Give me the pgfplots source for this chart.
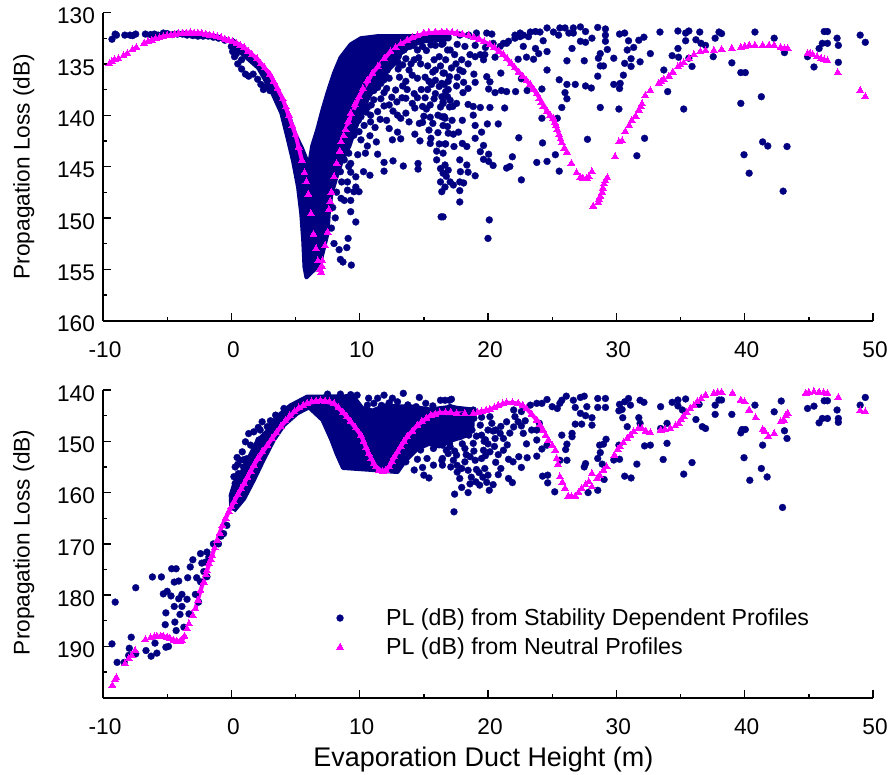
\documentclass[border=0pt]{standalone}
\usepackage{fontspec}
\setmainfont{Liberation Sans}
\usepackage{pgfplots}
\pgfplotsset{compat=1.18}
\definecolor{nv}{HTML}{000080}
\definecolor{mg}{HTML}{FF00FF}
\pgfplotsset{
 common/.style={
  scale only axis, width=577.5pt,
  xmin=-10,xmax=50,
  axis x line=bottom, axis y line=left,
  axis line style={-,line width=1.5pt,black},
  y dir=reverse,
  xtick={-10,0,10,20,30,40,50}, minor xtick={-5,5,15,25,35,45},
  tick align=inside, tick pos=left,
  tick style={black,line width=1pt},
  major tick length=6pt, minor tick length=3pt,
  /pgf/number format/assume math mode=true,
  /pgf/number format/.cd,set thousands separator={},/pgfplots/.cd,
  tick label style={font=\fontsize{17}{20}\selectfont},
  yticklabel style={yshift=-2.5pt,xshift=-2.5pt},
  xticklabel style={xshift=1.5pt,yshift=-12pt},
  label style={font=\fontsize{17}{20}\selectfont},
  clip=false,
 },
 bl/.style={only marks,mark=*,mark size=2.6pt,mark options={nv,fill=nv,line width=0.2pt}},
 mgs/.style={only marks,mark=triangle*,mark size=3pt,mark options={mg,fill=mg,line width=0pt}},
 core/.style={draw=nv,fill=nv,no marks,forget plot,line width=3pt,line join=round},
 mline/.style={draw=mg,no marks,forget plot,line width=3pt,line join=round},
}
\begin{document}
\begin{tikzpicture}
\path[use as bounding box] (0,0) rectangle (668.25pt,580.5pt);
\begin{axis}[common,at={(77.25pt,340.1pt)},anchor=south west,height=231pt,
  ymin=130,ymax=160,ytick={130,135,...,160},minor ytick={132.5,137.5,142.5,147.5,152.5,157.5},
  ylabel={Propagation Loss (dB)},ylabel style={at={(axis description cs:-0.083,0.5)},anchor=south}]
\addplot[core] coordinates {(0,132.6)(1,133.5)(2,134.7)(3,136.2)(3.5,137.3)(4,138.6)(4.5,140.1)(5,141.9)(5.5,143.2)(6.05,144.9)(6.3,143)(6.7,141.4)(7.1,139.5)(7.5,137.8)(8,135.9)(8.5,134.4)(9.3,133.1)(10.1,132.5)(11.4,132.3)(17,132.3)(17,132.6)(15,132.8)(14,133.2)(13.2,134)(12.7,135)(11.9,136)(11.2,137.2)(10.6,138.5)(10.1,140)(9.6,141.5)(9.2,143)(8.6,144.5)(8.2,146)(7.8,147.7)(7.6,149.4)(7.5,151.5)(7.3,152.5)(7,154)(6.5,155)(5.85,155.8)(5.7,154.8)(5.6,152.2)(5.45,149.6)(5.2,147)(4.8,144.4)(4.3,141.8)(3.9,139.8)(3.1,137.6)(2.1,135.4)(1,134.2)(0,133.1)};
\addplot[bl] coordinates {(-9.3,132.6)(-9.05,132.1)(-8.95,132.2)(-8.3,132.2)(-7.9,132.2)(-7.7,132.25)(-7.45,132.1)(-6.7,132.1)(-6.3,132.15)(-6,132.1)(-5.7,132.2)(-5.3,132)(-5,132.05)(-4.6,132.15)(-4.2,132.1)(-3.8,132.1)(-3.45,132.2)(-3,132.25)(-2.6,132.3)(-2.2,132.3)(-1.8,132.3)(-1.4,132.4)(-1,132.5)(-.5,132.7)
(0,133.3)(.1,133.8)(.25,134.3)(.5,135)(.8,135.5)(1.1,136)(1.35,136.2)(1.7,136)(2.05,136.5)(2.3,137)(2.5,137.5)(2.7,137.2)(3,137.6)(.4,134)(.8,134.6)
(9.7,150.4)(9.3,149.4)(8.8,148.3)(8.55,148.1)(9.3,148.3)(9.05,147.3)(9.55,147.45)(9.95,147.45)(9.7,147)(9.05,146.5)(9.7,146)(9.3,145.55)(8.5,145.5)(9.15,145)(9.3,144.7)(8.8,144.35)(9.15,143.7)(9.85,143.85)(10.45,143.7)(11.4,143.8)(10.3,145.5)(10.8,145.85)(11.9,144.6)(11.9,145.45)(12.6,144.45)(13.4,144.95)(14.55,144.7)(14.55,145.25)(16,144.35)(16.5,149.9)(8,152.5)(8.4,153.1)(9,152.9)(9.1,152)(8.5,154.05)(8.7,154.3)(9.35,154.6)(7.9,149)(8.2,147.5)(8.6,146.5)(7.8,151)(8.1,150)
(12.55,142.4)(12.95,141.65)(14.3,141.85)(15.5,142.75)(15.55,142.25)(16.7,142.8)(13.85,140.65)(12.95,140)(13.2,140.3)(13.6,139.8)(14.65,140.8)(15,140.1)(15.4,141.45)(15.7,140.8)(16.6,140.15)(16.85,141.1)
(10.85,140.65)(10.35,141)(9.95,141.6)(9.55,141.95)(10.85,140)(10.1,140.15)(11.4,139.65)(10.6,139.25)(11.9,139.1)(11.65,138.4)(12.5,138.25)(11.1,138.5)(11.1,137.6)(11.65,136.9)(12.3,136.4)(12.8,137.55)(13.35,137.15)(13.6,138.35)(14.25,137.9)(14.1,138.85)(14.9,139.15)(14.5,136.4)(15.4,136.7)(16.2,137.2)(16.85,138.2)(12.7,134.6)(13.35,135.1)(13.85,135.6)(14.75,135)(15.8,134.6)(16.85,133.65)(16.2,134.3)(14.25,134.6)(12.15,135.6)(11.9,136.55)(9.95,136.25)(10.2,137.2)(15.55,133.15)(14.5,133.65)(13.45,133.65)(16.6,135.9)(15.8,138.4)(16.3,139.2)(17,136.25)(17,139.2)
(12.6,133.6)(13,134.3)(13.2,133.4)(13.9,133.3)(14.2,133.2)(14.9,133.3)(15.2,133.7)(15.9,133.2)(16.4,133.1)(11.9,134.9)(11.3,136.2)(10.7,137.6)(10.2,139)(9.7,140.3)(9.3,141.3)(9,142.5)(8.7,143.5)(12.3,135.2)(13,135.5)(14.6,134.4)(15.3,135.2)(15.9,135.6)(16.3,135.2)(15.3,137.5)(15.6,137)(15.9,137.9)(15.1,138.3)(15.5,139)(16.6,137)(16.7,137.7)(13.1,136.3)(13.6,136.7)(14.1,136.1)(16.5,138.7)(16.1,140)(15.5,140.2)(12.1,137.4)(10.6,138.2)(10.1,142.4)(10.8,142)
(9.8,137.4)(10.4,138.4)(10.9,139)(9.5,139.8)(9.1,141.5)(9.9,140.5)(10.5,139.7)(11.4,137.3)(12,136.1)(12.4,134.9)(13,134.9)(13.6,134.5)(14,135)(13.7,137.5)(12.9,138.7)(12.3,139)(11.6,140.4)(11.2,141.2)(12.1,140.5)(12.6,139.6)(14.5,138.3)(14.8,137.5)(15.1,136.3)(15.7,135.8)(15.9,136.6)(16.7,134.6)(17.5,135)(14.3,139.3)(14.9,140.7)(14.7,142.5)(15.2,139.4)(16.1,141.7)(16.2,142.8)(13.2,142.3)(11.3,142.6)(10.6,143)(12.3,141.3)(13.3,138.3)(11.9,137.8)(17.6,136.3)(18.9,136)(19,136.8)(18.1,136.8)(17.2,140.5)(18,140.5)(16,143.5)(16.5,143.7)
(19.1,132)(19.9,132)(20.3,132.1)(18.5,132.2)(17.8,132.2)(21.2,133)(21.6,132.8)(22.1,132.5)(22.5,132)(22.75,132.2)(23.3,131.9)(23.7,131.85)(24.05,131.9)(24.6,131.5)(25.1,131.9)(25.6,131.5)(26,131.5)(26.3,132)(26.65,131.5)(27.2,131.4)(27.6,131.85)(28.1,132.5)(28.55,131.45)(29.15,131.6)(29.15,132.2)(29.15,132.8)(22.1,132.2)(22.5,132.35)(23.15,132.35)(24.3,132.75)(25.5,132.2)(26.65,132)(27.2,132.8)(27.6,132.9)
(22.75,133.3)(23.7,133.5)(24.6,133.8)(23.95,134)(26.55,133.5)(23,134.35)(23.55,134.55)(22.35,134.55)(26.15,134.7)(27.5,134.7)(28.6,134.45)(28.75,134)(29.3,133.6)(29,135.2)(28.75,135.2)(24.6,135.6)(28.55,136.2)
(30.25,132.1)(30.65,132)(30.95,132.75)(31.75,132.7)(32.15,132.4)(33.4,131.9)(34.8,131.8)(35.4,132)(35.65,131.8)(36.5,131.9)(38,131.9)(38.2,132.05)(37.7,132.5)(35.4,132.75)(36.2,132.65)(36.6,133)(36.95,133.2)(34.8,133.5)(31.35,133.4)(30.85,133.65)(32.65,134)(34.35,134.2)(34.85,134.35)(35.65,134.45)(31.15,134.5)(29.8,134.45)(30.65,134.95)(31.85,134.8)(31.15,135.25)(37.55,134.3)(39,134.9)(35.9,135.25)(33.7,135.6)(30.55,136.1)(39.7,135.85)(40.05,135.85)(40.8,131.9)(42.3,132.5)(43.1,133.9)(44.9,134.3)(45.4,135.3)(45.8,133.5)(46.05,133)(46.45,133)(46.2,131.85)(46.45,131.85)(47.2,132.5)(47.3,133.2)(47.3,134.85)(49,132.2)(49.4,132.9)
(25.55,136.55)(26.15,137)(26.8,137)(27.6,137.15)(28.05,137.35)(26,137.8)(26.15,138.4)(25.75,139.25)(29.8,137)(30.3,136.9)(30.25,137.4)(28.75,139.25)(30.2,139.4)(34,137.7)(35.25,139.4)(39.7,138.85)(41.3,138.2)
(24.2,137.45)(22.6,136.45)(23.05,137.6)(22.15,137.7)(21.3,139.3)(20.15,139.25)(19.4,139.25)(18.85,139.15)(18.45,138.95)(21,135.9)(19.9,136.25)(20.15,136.75)(20.05,137.45)(20.55,137.8)(21.05,137.6)(21.45,137.7)(18.45,137.4)(18.05,137.8)(17.55,138.85)(17.25,139.15)(24.2,140.3)(25.4,140.3)(18.85,140)(19,141)(19.95,140.85)(20.8,140.85)(19.5,141.65)(17.7,141.65)(17.3,141.85)(19,142.25)(22.4,142.2)(27.75,142.35)(32.2,142.25)(24.25,142.7)(19.65,142.95)(18.35,143.05)(18,142.75)(17.35,143.05)(16.65,142.8)(19.4,143.55)(20.05,143.8)(21.9,144.05)(25.25,143.85)(31.6,143.95)(41.4,142.6)(41.8,143)(43.3,143.05)(39.95,143.85)(19.65,144.3)(20.05,144.5)(20.4,144.9)(23.8,144.6)(24.6,144.5)(21.45,145.15)(21.7,145)(25.55,145.45)(18.35,144.85)(17.8,144.35)(17.85,145.5)(18.45,145.55)(19,145.9)(22.6,146.3)(40.35,145.65)(43,147.4)(17.8,146.5)(18.1,146.6)(17.8,147.35)(17.8,148.45)(16.35,149.9)(20.1,150.2)(20,152)
(16.65,144.85)(16.9,145.35)(16.5,145.65)(16.75,145.95)(17.05,146.5)(17.3,146.8)(16.65,147)(16.4,147.45)(16.3,145.2)(16.3,146.5)
(16.5,133)(17.05,133.65)(17.4,134.1)(17.95,134.6)(18.6,134.1)(19,134.3)(19.65,134.6)(18.45,135)(17.8,135.6)(17.15,135.4)(16.5,135.9)(16.9,136.7)(16.4,136.9)(17.55,137.15)(16.9,137.5)(16.4,138.2)(17.05,138.55)(16.5,138.85)(16.65,140.3)(16.4,140.15)(16.5,141)(16.9,141.75)(18.05,135.75)(19.4,134.1)(20.55,134.35)(19.75,134.1)(20.95,133.3)(21.45,133)(20.4,133)(17.6,133.1)(18.2,133.3)(19,133.2)(19.8,133.4)};
\addplot[mline] coordinates {(-6.8,133)(-5.9,132.55)(-5,132.25)(-4.1,132.05)(-3.2,131.95)(-2.3,132.05)(-1.4,132.25)(-.5,132.6)(.4,133)(1,133.4)(2,134.5)(3,136)(4,138.4)(5,141.9)(5.5,144.4)};
\addplot[mline] coordinates {(8.9,141.4)(9.95,138.2)(11,135.9)(12.4,133.8)(13.7,132.7)(15,132.05)(16.4,131.9)(17.6,132)(18.9,132.4)(20.15,133.1)(21.2,134.1)(22.1,135.4)(23,136.6)(23.8,137.9)(24.6,139.6)(25.2,140.7)(25.75,142.7)};
\addplot[mgs] coordinates {(-9.5,135)(-9.3,134.8)(-9.1,134.6)(-8.8,134.5)(-8.4,134.2)(-8.1,134)(-7.7,133.6)(-7.4,133.4)(-6.8,133)(-6.5,132.85)(-6.2,132.7)(-5.9,132.55)(-5.6,132.45)(-5.3,132.35)(-5,132.25)(-4.7,132.2)(-4.4,132.1)(-4.1,132.05)(-3.8,132)(-3.5,132)(-3.2,131.95)(-2.9,132)(-2.6,132)(-2.3,132.05)(-2,132.1)(-1.7,132.2)(-1.4,132.25)(-1.1,132.35)(-.8,132.45)(-.5,132.6)(-.2,132.7)(.1,132.85)(.4,133)(.7,133.2)(1,133.4)(1.3,133.75)(1.6,134.1)(2,134.5)(2.3,135)(2.6,135.4)(3,136)(3.3,136.7)(3.6,137.4)(4,138.4)(4.25,139.2)(4.5,140)(4.75,141)(5,141.9)(5.25,143.1)(5.5,144.4)(5.7,145.6)(5.85,146.5)(6,147.7)(6.2,149.6)(6.4,151.6)(6.6,153)(6.75,154.2)(6.9,155)(7,155.3)(7.05,154.7)(7.1,154.2)(7.3,152.7)(7.5,151.4)(7.6,149.2)(7.7,148.4)(7.8,147.5)(8,146)(8.2,144.7)(8.45,143.5)(8.55,142.6)(8.75,142)(8.9,141.4)(9.1,140.6)(9.3,139.8)(9.6,139)(9.95,138.2)(10.25,137.4)(10.6,136.6)(11,135.9)(11.4,135.3)(11.9,134.5)(12.4,133.8)(12.8,133.4)(13.2,133.05)(13.7,132.7)(14.1,132.45)(14.5,132.25)(15,132)(15.4,131.95)(15.9,131.9)(16.4,131.9)(16.8,131.9)(17.2,131.95)(17.6,132)(18,132.1)(18.5,132.25)(18.9,132.4)(19.3,132.6)(19.7,132.85)(20.15,133.1)(20.5,133.4)(20.85,133.75)(21.2,134.1)(21.5,134.5)(21.8,134.95)(22.1,135.4)(22.4,135.8)(22.7,136.2)(23,136.6)(23.3,137)(23.55,137.45)(23.8,137.9)(24,138.4)(24.15,138.8)(24.3,139.2)(24.6,139.6)(24.85,140)(25.1,140.3)(25.2,140.7)(25.3,141)(25.4,141.4)(25.55,141.9)(25.65,142.3)(25.75,142.7)(25.95,143.2)(26.15,143.6)(26.5,144.7)(26.9,145.6)(27.2,146.05)(27.4,146.15)(27.7,146.15)(27.85,146)(28.1,145.5)
(28.2,148.85)(28.6,148.5)(28.65,148.2)(28.75,147.9)(28.9,147.5)(28.95,147.1)(29.05,146.7)(29.15,146.4)(29.3,146.1)(29.9,144.05)(30.2,142.6)(30.45,142.5)(30.7,141.6)(31,141)(31.2,140.5)(31.5,140.1)(31.75,139.5)(31.9,139.2)(32,138.9)(32.25,138.1)(32.65,137.6)(33.3,136.9)(33.5,136.7)(33.7,136.5)(34.1,136.2)(34.4,135.8)(34.8,135.3)(35,135.1)(35.25,134.9)(35.65,134.5)(36.05,134.1)(36.55,133.8)(36.95,133.7)(37.6,133.7)(38.2,133.6)(39,133.5)(39.7,133.4)(40,133.3)(40.35,133.2)(40.8,133.2)(41.4,133.2)(41.9,133.2)(42.3,133.2)(42.8,133.4)(43.1,133.5)(43.35,133.5)(44.9,134)(45.1,134)(45.3,134.1)(45.65,134.3)(45.95,134.5)(46.2,134.6)(46.45,134.7)(47.25,135.85)(49,137.6)(49.4,138.2)};
\end{axis}
\begin{axis}[common,at={(77.25pt,57.2pt)},anchor=south west,height=230.8pt,
  ymin=140,ymax=200,ytick={140,150,...,190},minor ytick={145,155,165,175,185,195},
  xticklabel style={yshift=-0.5pt},
  ylabel={Propagation Loss (dB)},ylabel style={at={(axis description cs:-0.083,0.505)},anchor=south},
  xlabel={Evaporation Duct Height (m)},xlabel style={font=\fontsize{20.2}{24}\selectfont,at={(axis description cs:0.494,-0.145)},anchor=north},
  legend cell align=left,
  legend style={draw=none,fill=none,at={(0.303,0.299)},anchor=north west,font=\fontsize{17.4}{20}\selectfont,row sep=3.8pt,
   /tikz/column 1/.style={column sep=30pt},inner sep=0pt}]
\addplot[core] coordinates {(0,163.4)(-.05,160.5)(.2,158.5)(.8,156)(1.5,152.5)(2,150)(2.8,148)(3.55,145.2)(4.6,143)(5.9,141.3)(9.5,141.2)(10.2,143.5)(11,144)(12,143)(13,143.2)(14,143.2)(15.5,143.8)(17,143.3)(18.8,143.8)(18.8,147)(18.2,149)(17,150)(16.2,151)(15.4,150.5)(14.5,151.5)(13.5,154)(12.95,156)(11,155.6)(8.7,155.2)(8.2,152.4)(7.8,149.75)(7.1,145.85)(6.05,143.4)(5.15,144.55)(4.1,146.85)(3.3,149.8)(2.5,153.7)(1.75,157.6)(1,161.2)(.2,163.6)};
\addplot[bl] coordinates {(-9.05,181.35)(-9.3,189.5)(-8.9,193.1)(-8.35,193.1)(-7.8,188.2)(-7.45,178.55)(-7.95,190.35)(-8,191.75)(-7.45,191.45)(-6.65,190.8)(-6.25,191.9)(-5.95,189.35)(-5.8,191.3)(-6.15,176.45)(-5.45,176.45)(-5.1,190.15)(-4.9,190)(-5.15,185.75)(-5.1,183.45)(-5.3,179.75)(-5,179.25)(-4.7,180.15)(-4.65,174.85)(-4.3,174.85)(-4.45,177.45)(-4.1,177.25)(-4.45,182.2)(-4.4,185.25)(-4.3,186.9)(-4.1,180.7)(-3.85,179.85)(-3.85,182.2)(-4,183.75)(-3.7,186.25)(-3.4,176.6)(-3.45,180.8)(-3.3,183.65)(-3.2,174.5)(-3,173.1)(-2.4,171.9)(-1.9,171.6)(-2.3,173.75)(-2.7,176.6)(-2.8,179.85)(-2.55,181.35)(-2,173.55)(-1.75,172.55)(-1.4,170)(-2.15,175.4)(-1.9,176.4)(-2.4,177.4)(-.6,168)(-.35,166.4)(-1,170)(-.8,168.5)
(.45,153.15)(.85,152.05)(1.1,150.1)(1.35,148.5)(1.75,148.15)(2.4,146.2)(2.8,147.15)(2.15,149.75)(1.5,150.75)(1.9,151.75)(.7,153.7)(.3,155)(.2,156.9)(.95,155)(.55,156.3)(.3,158.2)(3.45,144.9)(4.1,143.6)(2.25,147.8)(2.1,147.3)(.5,154.5)(1.2,153.4)(.95,153.6)(3.05,146)
(10.7,141.6)(11.4,141.6)(11.9,141)(12.55,141.6)(13.4,140.65)(12.95,142.3)(13.75,142.9)(14.4,143.25)(14.65,141.45)(15.15,142.6)(15.7,143.1)(16.3,142)(17,142)(10.6,142.95)(10.05,144.55)(10.6,144.55)(11.1,142.6)(9.8,141)(9.3,140.9)(8.5,140.8)(7.5,140.8)(12.3,142.5)(11.7,143)
(13.35,152.7)(13.6,154)(14.25,155.6)(15,156.6)(15.4,157.15)(14.75,151.7)(15.25,153.35)(15.75,154.65)(16.45,153.35)(16.45,154.65)(15.75,151.4)(16.9,152.4)(17,150.4)(16.45,150.75)(14.9,155.1)(14.5,153.5)
(17.15,141.8)(16.65,142)(17.05,143.4)(17.3,143.6)(18.85,143.9)(18.45,144.45)(22,143.9)(22.1,145.2)(22.35,146.2)(22.6,144.2)(23.3,142.95)(23.8,142.6)(24.6,141.85)(24.2,142.6)(25,143.25)(25.4,143.6)(25.75,142)(26.1,141.2)(25.6,142.6)(26.65,142)(27.2,141.45)(27.5,141.2)(26.8,143.4)(27.7,143.25)(27.2,144.55)(27.6,145)(28.1,145.4)(28.55,141.65)(29.15,141.65)(28.55,143.4)(29.15,143.4)(30.25,142.8)(30.45,143.8)(30.2,144.05)(30.95,141.65)(31.1,142.95)(30.65,142.3)(31.85,142)(32.15,142.4)(33.45,143.25)(34.35,142.4)(34.8,141.95)(35.4,141.75)(34.8,143.1)(35.15,143.9)(36.45,142.8)(30.5,145.4)(30.85,147.15)(31.75,145.4)(31.85,146.5)(33.95,146.5)(33.45,147.5)(36.2,145.75)(36.7,147.15)(36.95,147.5)(37.7,142.95)(38,141.95)(38.2,141.95)(37.7,144.75)(39,144.75)(40.8,142.95)(42.3,144.25)(42.85,142.15)(43.1,147.95)(43.3,149.45)(41.4,150.75)(39.7,148.35)(40.05,147.7)(39.8,147.7)(39.95,153.2)(41.3,155.3)(41.75,156.95)(40.4,157.6)(35.9,154.15)(35.25,156.4)(33.65,153.55)(33.95,150.4)(32.2,150.9)(32.65,150.75)(31.6,154.45)(31.15,157.15)(30.65,156.8)(30.25,153.5)(29.8,153.65)(30.2,150.75)(29.2,149.6)(28.7,150.75)(29,150.55)(28.75,152.2)(28.55,153.35)(28.9,154.45)(29.05,157.45)(28.55,159.55)(27.8,160)(25.2,159.85)(27.6,154.35)(27.5,155)(26.15,153.7)(25.6,153.7)(26.05,151.6)(26.15,150.55)(25.75,148.8)(26.55,148.45)(26.55,149.1)(26.8,146.65)(27.3,146.65)(28.1,146.85)(22.75,148.45)(23.8,149.75)(24.2,151.5)(24.6,150.75)(23.8,152.9)(23.05,153.2)(22.4,153)(21.95,154)(22.6,155.1)(24.25,156.8)(24.65,156.6)(24.65,158.1)(21.6,157.25)(21.9,158.05)(21.2,151.75)(20.95,148.45)(21.45,146.2)(21.2,149.45)(20.55,149.45)(20.3,146.5)(20.15,145.2)(19.65,151.75)(20.15,152.05)(19.5,153.35)(20.6,154.1)(21,155.3)(20,156.6)(20.4,158.45)(20.1,159.55)(19.35,158.55)(19.05,157.9)(19.75,155.3)(19,153.7)(18.45,155.65)(17.95,155.3)(17.8,157.25)(17.95,159)(17.4,160.3)(18.45,160)(17.35,163.75)(17.55,152.7)(18.2,151.4)(18.85,150.4)(19.5,148.8)(19.4,146.85)(18.45,145.85)(18.75,147.8)(17.8,147.15)(17.8,149.1)(17.05,151.05)(17.3,153.7)(16.4,153.7)(16.75,151.75)(42.95,162.9)
(19.1,149)(19.7,150)(18.3,152.6)(18.9,151.9)(19.1,155.5)(18.7,157)(19.6,157)(18.2,154)(20,147.8)(20,150.5)(17.6,154.7)(21,147.1)(20.6,147.8)(22.9,146)(24,146.5)(22.6,147)
(17.5,145.5)(18,145)(18.9,145.5)(19.5,145.3)(20.4,148)(19.8,149.7)(18.5,148.8)(17.4,148.2)(18.6,153)(19.8,152.8)(20.8,152.6)(20.5,151)(18,150.5)(17.4,151.9)(17.1,155)(17.6,156)(18.6,158.3)(19.9,158)(20.8,156.5)(19.3,156.1)(21.5,150.7)(21.7,148.4)(22,147.2)(21.6,153.5)(23.4,147.8)(23,150.5)(23.8,147.8)
(44.9,143.6)(45.4,143.15)(46.2,142.1)(46.45,142.1)(47.2,143.9)(47.3,145.55)(47.3,146.3)(45.8,146.4)(46.05,145.55)(46.45,145.55)(49,142.95)(49.4,141.45)};
\addlegendentry{PL (dB) from Stability Dependent Profiles}
\addplot[mline] coordinates {(-2.8,182.65)(-2.4,179.1)(-1.9,175.2)(-1.5,172.25)(-1.1,169.3)(-.7,166.4)(-.2,163.75)(.2,161.8)(1,158.2)(1.75,154.65)(2.8,150.75)(3.85,147.15)(4.9,144.25)(5.9,142.6)(6.95,142.1)(8,142.6)(9,145.2)(10.1,148.8)(10.7,152.4)(11.25,155)(11.8,155.95)(12.3,155)(12.95,152.05)(13.7,149.1)(14.5,146.85)(15.55,144.9)(16.25,144.45)(17.55,144.55)(18.85,144.55)(20.15,143.8)(21.45,142.5)(22.35,142.6)(23,143.6)(23.8,145.85)(24.3,147.8)};
\addplot[mline] coordinates {(-6.3,188.3)(-5.3,188)(-4.8,188.4)(-4.25,189)(-3.85,188.85)(-3.65,188)};
\addplot[mgs] coordinates {(-9.27,197.6)(-8.95,196.1)(-9.05,196.4)(-8.3,193.4)(-8,192.4)(-7.75,191.75)(-7.5,190.8)(-6.7,188.7)(-6.3,188.3)(-6,188.1)(-5.8,188)(-5.5,188)(-5.3,188)(-5,188.2)(-4.8,188.4)(-4.5,188.8)(-4.25,189)(-4,189)(-3.85,188.85)(-3.65,188)(-3.45,186.55)(-3.3,185.6)(-3,184)(-2.8,182.65)(-2.6,181)(-2.4,179.1)(-2.15,177.45)(-2,176)(-1.9,175.2)(-1.75,173.85)(-1.6,173)(-1.5,172.25)(-1.3,170.8)(-1.1,169.3)(-.9,167.9)(-.7,166.4)(-.45,165)(-.2,163.75)(0,162.8)(.2,161.8)(.5,160.4)(.75,159.3)(1,158.2)(1.25,157)(1.5,155.8)(1.75,154.65)(2.05,153.3)(2.4,152)(2.8,150.75)(3.15,149.5)(3.5,148.3)(3.85,147.15)(4.2,146)(4.55,145)(4.9,144.25)(5.25,143.5)(5.6,143)(5.9,142.6)(6.25,142.3)(6.6,142.15)(6.95,142.1)(7.3,142.15)(7.65,142.3)(8,142.6)(8.35,143.4)(8.7,144.3)(9,145.2)(9.3,146.1)(9.7,147.4)(10.1,148.8)(10.3,150)(10.5,151.2)(10.7,152.4)(10.9,153.4)(11.1,154.3)(11.25,155)(11.5,155.6)(11.8,155.95)(12.05,155.6)(12.3,155)(12.5,153.9)(12.7,153)(12.95,152.05)(13.2,151)(13.45,150)(13.7,149.1)(14.1,148)(14.5,146.85)(14.85,146.1)(15.2,145.5)(15.55,144.9)(15.9,144.7)(16.25,144.45)(16.7,144.4)(17.1,144.3)(17.55,144.55)(18.2,144.6)(18.85,144.55)(19.2,144.4)(19.5,144.2)(19.85,144)(20.15,143.8)(20.5,143.4)(20.8,143)(21.15,142.7)(21.45,142.5)(21.9,142.5)(22.35,142.6)(22.7,143)(23,143.6)(23.4,144.7)(23.8,145.85)(24.05,146.8)(24.3,147.8)(24.5,148.8)(24.7,149.75)(25,150.8)(25.25,151.75)(25.35,153.35)(25.45,154.5)(25.6,156.95)(25.8,158)(26,159.2)(26.25,160.7)(26.5,160.8)(26.8,160.7)(27.05,160)(27.3,159.2)(27.6,158.5)(27.85,157.9)(28.1,158.9)(28.1,156.3)(28.5,157.25)(28.7,156.6)(29,155.65)(29.25,155)(29.85,152.7)(30.1,151.6)(30.3,151.1)(30.55,150.3)(30.85,149.45)(31.1,148.8)(31.35,148.15)(31.7,147.6)(32,147.5)(32.3,148)(32.65,148.35)(33.45,147.8)(33.8,147.7)(34.2,147.5)(34.6,147)(34.85,146.5)(35.05,145.8)(35.25,145.2)(35.5,144.4)(35.75,143.6)(36.05,143)(36.3,142.3)(36.6,141.7)(36.95,141)(37.6,140.65)(37.9,140.5)(38.2,140.45)(39.05,140.65)(39.7,141.95)(40,142.3)(40.35,143.9)(40.85,145.4)(41.4,147.7)(41.55,148)(41.85,149.1)(42.3,148.5)(42.8,146.2)(43.05,145.85)(43.2,145)(43.35,144.55)(44.75,140.65)(45,140.5)(45.4,140.35)(45.8,140.4)(46.15,140.5)(46.45,140.65)(47.3,141.45)(49,144.05)(49.4,144.25)};
\addlegendentry{PL (dB) from Neutral Profiles}
\end{axis}
\end{tikzpicture}
\end{document}
